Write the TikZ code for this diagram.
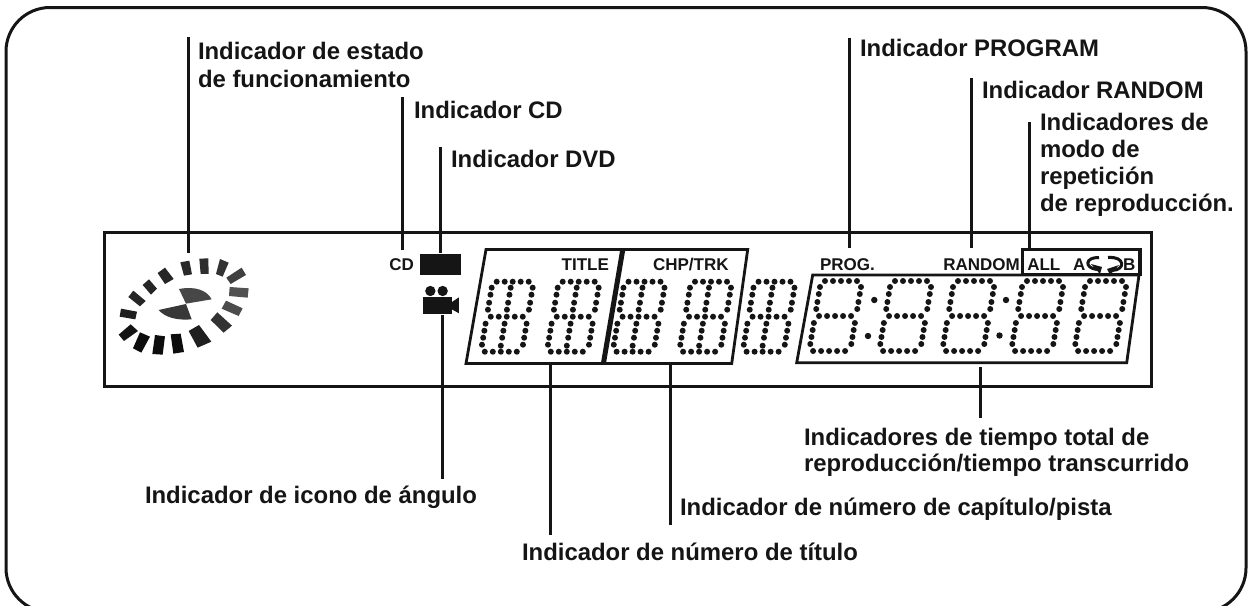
\documentclass[tikz,border=0pt]{standalone}
\usepackage{fontspec}
\setmainfont{Liberation Sans}
\definecolor{ink}{HTML}{151515}
\newcommand{\lab}{\fontsize{23.9}{26}\selectfont\bfseries}
\newcommand{\sml}{\fontsize{17}{20}\selectfont\bfseries}
\def\segpts{0/0,8/0,16/0,24/0,32/0,-4/6,-4/13,-4/21,-4/28,37/6,37/13,37/21,37/28,0/35,8/35,16/35,24/35,32/35,-4/42,-4/49,-4/56,-4/63,37/42,37/49,37/56,37/63,0/70,8/70,16/70,24/70,32/70}
\def\midpts{15/6,15/13,15/21,15/28,15/42,15/49,15/56,15/64}
\newcommand{\dotat}[2]{\fill[ink] ({#1-0.17*#2},#2) circle (3);}
\newcommand{\digit}[2]{\begin{scope}[shift={(#1,#2)}]\foreach \a/\b in \segpts {\dotat{\a}{\b}}\end{scope}}
\newcommand{\digitc}[2]{\begin{scope}[shift={(#1,#2)}]\foreach \a/\b in \segpts {\dotat{\a}{\b}}\foreach \a/\b in \midpts {\dotat{\a}{\b}}\end{scope}}
\begin{document}
\begin{tikzpicture}[x=1pt,y=-1pt,
  every node/.style={inner sep=0,outer sep=0,text=ink},
  label/.style={anchor=base west,font=\lab},
  small/.style={anchor=base west,font=\sml},
  leader/.style={draw=ink,line width=3pt},
  frameline/.style={draw=ink,line width=3pt}]
\useasboundingbox (0,0) rectangle (1250,605);
\clip (0,0) rectangle (1250,605);
\fill[white] (0,0) rectangle (1250,605);
% outer frame
\draw[ink,line width=3pt,rounded corners=44pt] (6,7.5) rectangle (1246,612);
% display
\draw[frameline] (104.5,232) rectangle (1151,386);
% parallelograms
\draw[ink,line width=2.8pt,fill=white] (486,249.5) -- (747.7,249.5) -- (731.7,363.5) -- (466,363.5) -- cycle;
\draw[ink,line width=5pt] (622.7,250) -- (603.5,363);
\draw[ink,line width=2.8pt,fill=white] (812.7,275) -- (1139,275) -- (1126.7,362.7) -- (796.7,362.7) -- cycle;
\draw[ink,line width=3.4pt,fill=white] (1022.7,249.5) rectangle (1140,274.5);
% digits
\digitc{496.7}{281.7}
\digitc{562.7}{281.7}
\digitc{628.5}{281.7}
\digitc{695}{281.7}
\digitc{758.5}{281.7}
\digit{825}{281}
\digit{895}{281}
\digit{958}{281}
\digit{1027}{281}
\digit{1090}{281}
\fill[ink] (874.3,300) circle (3.2) (868,336) circle (3.2) (1006,300) circle (3.2) (999.5,335.5) circle (3.2);
% ring
\begin{scope}[shift={(100,230)},x=0.3333pt,y=-0.3333pt]
\fill[black!84] (241,97)--(268,92)--(276,133)--(252,137)--cycle;
\fill[black!82] (298,86)--(325,85)--(326,132)--(302,132)--cycle;
\fill[black!80] (360,87)--(386,98)--(368,140)--(348,132)--cycle;
\fill[black!75] (425,113)--(438,135)--(392,162)--(379,143)--cycle;
\fill[black!68] (389,171)--(446,175)--(443,203)--(387,198)--cycle;
\fill[black!70] (378,212)--(428,235)--(416,258)--(365,236)--cycle;
\fill[black!80] (352,247)--(396,287)--(371,308)--(332,270)--cycle;
\fill[black!88] (297,285)--(334,335)--(293,353)--(266,303)--cycle;
\fill[black!95] (212,313)--(242,311)--(252,366)--(220,371)--cycle;
\fill[black!95] (165,315)--(195,319)--(188,374)--(157,372)--cycle;
\fill[black!95] (120,307)--(150,320)--(124,368)--(99,355)--cycle;
\fill[black!92] (92,283)--(114,303)--(72,333)--(56,314)--cycle;
\fill[black!88] (63,236)--(111,245)--(106,268)--(59,260)--cycle;
\fill[black!85] (100,182)--(137,213)--(120,229)--(85,201)--cycle;
\fill[black!85] (147,148)--(171,176)--(153,194)--(128,165)--cycle;
\fill[black!85] (195,113)--(221,147)--(195,162)--(173,129)--cycle;
\fill[black!72] (237,177) .. controls (285,168) and (320,180) .. (335,208) -- (258,221) -- cycle;
\fill[black!78] (176,240) -- (258,222) -- (275,268) .. controls (230,272) and (195,262) .. (176,240) -- cycle;
\end{scope}
% DVD block and camera
\begin{scope}[shift={(400,240)},x=0.3333pt,y=-0.3333pt]
\fill[ink] (59,42) rectangle (182,104);
\fill[ink] (91,153) circle (15.5) (128,153) circle (15.5);
\fill[ink] (70,172) rectangle (155,222);
\fill[ink] (150,190) -- (177,172) -- (177,220) -- (150,205) -- cycle;
\end{scope}
% repeat symbol
\draw[ink,line width=3pt] (1099,257.5) .. controls (1085,257) and (1084,268) .. (1097,269.5);
\fill[ink] (1091,264) -- (1102,267) -- (1100,274) -- cycle;
\draw[ink,line width=3pt] (1108,257.5) .. controls (1125,256) and (1126,270) .. (1112,270.5);
\fill[ink] (1119,265) -- (1107,269) -- (1110,275) -- cycle;
% small labels
\node[small] (sCD) at (389.3,270.7) {CD};
\node[small] (sTitle) at (561.7,270.7) {TITLE};
\node[small] (sChp) at (653,270.7) {CHP/TRK};
\node[small] (sProg) at (820,270.7) {PROG.};
\node[small] (sRandom) at (943.3,270.7) {RANDOM};
\node[small] (sAll) at (1027.3,270.7) {ALL};
\node[small] (sA) at (1073,270.7) {A};
\node[small] (sB) at (1123,270.7) {B};
% labels
\node[label] (lEstado) at (198,59) {Indicador de estado};
\node[label] (lEstadoB) at (198,87) {de funcionamiento};
\node[label] (lCD) at (414,118) {Indicador CD};
\node[label] (lDVD) at (451,167) {Indicador DVD};
\node[label] (lProg) at (860,56) {Indicador PROGRAM};
\node[label] (lRandom) at (982,98) {Indicador RANDOM};
\node[label] (lRepA) at (1040,130) {Indicadores de};
\node[label] (lRepB) at (1040,157) {modo de};
\node[label] (lRepC) at (1040,184) {repetición};
\node[label] (lRepD) at (1040,211.5) {de reproducción.};
\node[label] (lTimeA) at (804,445) {Indicadores de tiempo total de};
\node[label] (lTimeB) at (804,471.5) {reproducción/tiempo transcurrido};
\node[label] (lAngle) at (145,503) {Indicador de icono de ángulo};
\node[label] (lChp) at (680,515.5) {Indicador de número de capítulo/pista};
\node[label] (lTit) at (522,560) {Indicador de número de título};
% leader coordinates
\coordinate (a1) at (188,37);   \coordinate (a2) at (188,252.7);
\coordinate (b1) at (402.7,97); \coordinate (b2) at (402.7,250);
\coordinate (c1) at (440.7,147);\coordinate (c2) at (440.7,252.5);
\coordinate (d1) at (442.7,315);\coordinate (d2) at (442.7,479);
\coordinate (e1) at (550,363);  \coordinate (e2) at (550,535);
\coordinate (f1) at (670,363);  \coordinate (f2) at (670,525);
\coordinate (g1) at (980,367);  \coordinate (g2) at (980,418);
\coordinate (h1) at (849,38);   \coordinate (h2) at (849,248);
\coordinate (i1) at (971.7,78); \coordinate (i2) at (971.7,248);
\coordinate (j1) at (1029,122); \coordinate (j2) at (1029,249);
\foreach \p in {a,b,c,d,e,f,g,h,i,j} \draw[leader] (\p1) -- (\p2);
\end{tikzpicture}
\end{document}
